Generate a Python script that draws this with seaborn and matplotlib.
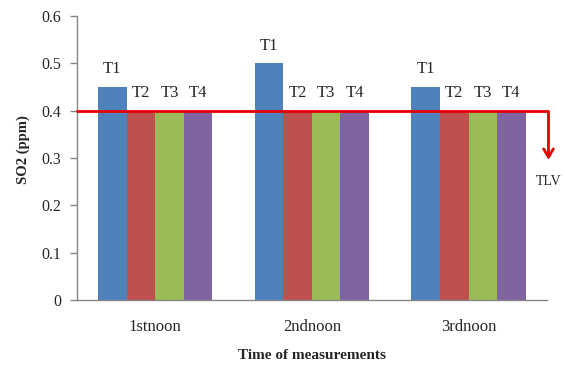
import matplotlib
matplotlib.use("Agg")
import matplotlib.pyplot as plt
import seaborn as sns
import pandas as pd

categories = ["1st noon", "2nd noon", "3rd noon"]
tick_labels = ["1stnoon", "2ndnoon", "3rdnoon"]
series = ["T1", "T2", "T3", "T4"]
t1 = [0.45, 0.50, 0.45]
t2 = [0.40, 0.40, 0.40]
t3 = [0.40, 0.40, 0.40]
t4 = [0.40, 0.40, 0.40]
tlv = 0.4
colors = ["#4F81BD", "#C0504D", "#9BBB59", "#8064A2"]

rows = []
for s, vals in zip(series, [t1, t2, t3, t4]):
    for c, v in zip(categories, vals):
        rows.append({"cat": c, "series": s, "value": v})
df = pd.DataFrame(rows)

sns.set_style("white")
plt.rcParams["font.family"] = ["Liberation Serif", "DejaVu Serif"]

fig = plt.figure(figsize=(5.65, 3.72), dpi=100)
ax = fig.add_axes([0.136, 0.1935, 0.832, 0.7635])

sns.barplot(data=df, x="cat", y="value", hue="series", palette=colors,
            width=0.73, gap=0, ax=ax, legend=False, saturation=1,
            edgecolor="none", linewidth=0)

for cont, lab in zip(ax.containers, series):
    for bar in cont:
        ax.annotate(lab, (bar.get_x() + bar.get_width() / 2, bar.get_height()),
                    xytext=(0, 7), textcoords="offset points",
                    ha="center", va="bottom", fontsize=12)

ax.set_ylim(0, 0.6)
ax.set_xlim(-0.5, 2.5)
ax.set_yticks([0, 0.1, 0.2, 0.3, 0.4, 0.5, 0.6])
ax.set_yticklabels(["0", "0.1", "0.2", "0.3", "0.4", "0.5", "0.6"], fontsize=11.5)
ax.set_xticks([0, 1, 2])
ax.set_xticklabels(tick_labels, fontsize=12)
ax.set_xticks([-0.5, 0.5, 1.5, 2.5], minor=True)
ax.tick_params(axis="x", which="major", length=0, pad=14)
ax.tick_params(axis="x", which="minor", length=5, color="#868686", width=1, direction="out")
ax.tick_params(axis="y", length=5, color="#868686", width=1, direction="out", left=True, pad=6)

for sp in ["top", "right"]:
    ax.spines[sp].set_visible(False)
for sp in ["left", "bottom"]:
    ax.spines[sp].set_color("#868686")
    ax.spines[sp].set_linewidth(1)

ax.set_xlabel("Time of measurements", fontsize=11, fontweight="bold", labelpad=10)
ax.set_ylabel("SO2 (ppm)", fontsize=10.5, fontweight="bold", labelpad=9)
ax.yaxis.set_label_coords(-0.1, 0.53)

ax.plot([-0.5, 2.51], [tlv, tlv], color="#E60000", lw=2, clip_on=False, zorder=5)
ax.annotate("", xy=(2.51, 0.29), xytext=(2.51, tlv + 0.002),
            arrowprops=dict(arrowstyle="->,head_length=0.6,head_width=0.35",
                            color="#E60000", lw=2),
            annotation_clip=False, zorder=5)
ax.text(2.51, 0.25, "TLV", ha="center", va="center", fontsize=10, clip_on=False)

fig.savefig("out.png", dpi=100)
